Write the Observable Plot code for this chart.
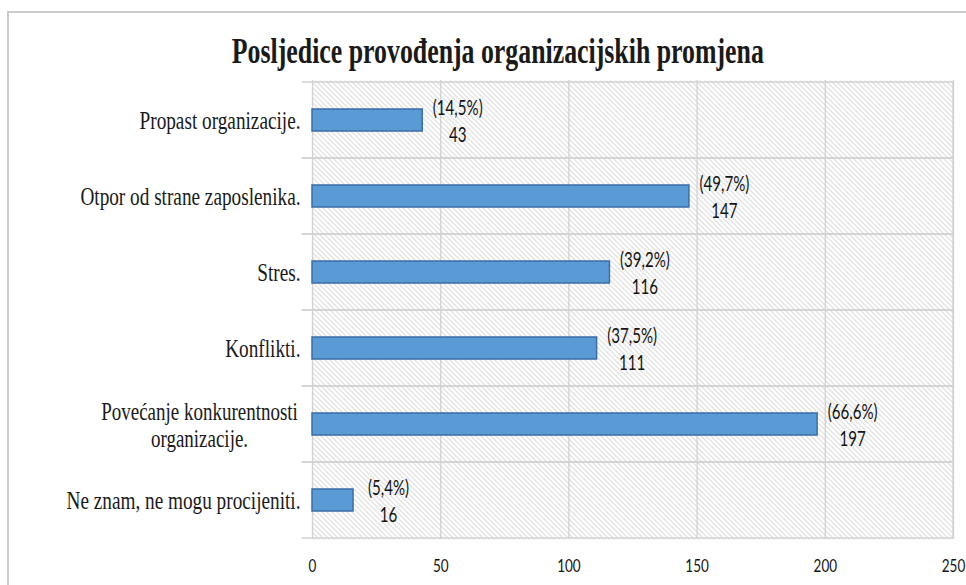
<!DOCTYPE html>
<html><head><meta charset="utf-8">
<script src="https://cdn.jsdelivr.net/npm/d3@7"></script>
<script src="https://cdn.jsdelivr.net/npm/@observablehq/plot@0.6"></script>
<style>
body{margin:0;background:#fff;}
#wrap{position:relative;width:966px;height:585px;overflow:hidden;background:#fff;}
#border{position:absolute;left:7px;top:11px;width:1000px;height:700px;border-top:2px solid #cbcbcb;border-left:2px solid #cbcbcb;}
#chart{position:absolute;left:0;top:0;}
#title{position:absolute;top:33px;left:0;width:996px;text-align:center;font-family:"Liberation Serif","Times New Roman",serif;font-weight:bold;font-size:36px;line-height:36px;color:#1a1a1a;white-space:nowrap;}
#title span{display:inline-block;transform-origin:center;}
</style></head>
<body>
<div id="wrap">
  <div id="border"></div>
  <div id="chart"></div>
  <div id="title"><span id="tt">Posljedice provođenja organizacijskih promjena</span></div>
</div>
<script>
const categories = ["Propast organizacije.", "Otpor od strane zaposlenika.", "Stres.", "Konflikti.", "Povećanje konkurentnosti\norganizacije.", "Ne znam, ne mogu procijeniti."];
const counts = [43, 147, 116, 111, 197, 16];
const percents = ["(14,5%)", "(49,7%)", "(39,2%)", "(37,5%)", "(66,6%)", "(5,4%)"];
const xTicks = [0, 50, 100, 150, 200, 250];

const data = categories.map((c, i) => ({category: c, count: counts[i], pct: percents[i]}));
const sans = "Lato,'Open Sans',sans-serif";
const serif = "'Liberation Serif','Times New Roman',serif";

const chart = Plot.plot({
  width: 966, height: 585,
  marginTop: 80, marginBottom: 46, marginLeft: 312, marginRight: 13,
  x: {domain: [0, 250], label: null},
  y: {domain: categories, padding: 0, axis: null, label: null},
  style: {background: "transparent", overflow: "visible"},
  marks: [
    Plot.frame({fill: "url(#hatch)", stroke: null}),
    Plot.ruleX(xTicks, {stroke: "#d2d2d2", strokeWidth: 1.3}),
    Plot.barX(data, {x1: 0, x2: 250, y: "category", insetLeft: -10, fill: "none", stroke: "#d2d2d2", strokeWidth: 1.3, strokeDasharray: "727.5 0 651 76.5"}),
    Plot.barX(data, {x: "count", y: "category", insetTop: 27, insetBottom: 27, fill: "#5b9bd5", stroke: "#3a6ea5", strokeWidth: 1.5}),
    Plot.text(data, {x: "count", y: "category", text: d => d.pct + "\n" + d.count, textAnchor: "middle", dx: 35, dy: -1, lineHeight: 1.28, fontSize: 21, fontFamily: sans, fill: "#141414"}),
    Plot.axisX({ticks: xTicks, tickSize: 0, tickPadding: 20, fontSize: 18, fontFamily: sans, color: "#141414", label: null, tickFormat: d => String(d)}),
    Plot.text(data.filter(d => !d.category.includes("\n")), {frameAnchor: "left", y: "category", text: "category", textAnchor: "end", dx: -12, fontSize: 25, fontFamily: serif, fill: "#1a1a1a"}),
    Plot.text(data.filter(d => d.category.includes("\n")), {frameAnchor: "left", y: "category", text: "category", textAnchor: "middle", dx: -113, lineHeight: 1.08, fontSize: 25, fontFamily: serif, fill: "#1a1a1a"})
  ]
});
chart.insertAdjacentHTML("afterbegin", '<defs><pattern id="hatch" patternUnits="userSpaceOnUse" width="5" height="5"><rect width="5" height="5" fill="#fff"/><path d="M0,0L5,5M-1,4L1,6M4,-1L6,1" stroke="#c6c6c6" stroke-width="1"/></pattern></defs>');

// horizontal condensing of text glyphs (the reference is rendered tall and narrow)
function squeeze(group, k) {
  if (!group) return;
  group.querySelectorAll("text").forEach(t => {
    const tr = t.getAttribute("transform");
    if (tr) t.setAttribute("transform", tr + " scale(" + k + ",1)");
    else {
      const x = +t.getAttribute("x") || 0, y = +t.getAttribute("y") || 0;
      t.setAttribute("transform", "translate(" + x + "," + y + ") scale(" + k + ",1) translate(" + (-x) + "," + (-y) + ")");
    }
  });
}
const textGroups = chart.querySelectorAll('g[aria-label="text"]');
squeeze(textGroups[0], 0.72);
squeeze(textGroups[1], 0.77);
squeeze(textGroups[2], 0.76);
chart.querySelectorAll('g[aria-label="x-axis tick label"]').forEach(g => squeeze(g, 0.75));
document.getElementById("chart").appendChild(chart);

const tt = document.getElementById("tt");
const w = tt.getBoundingClientRect().width;
tt.style.transform = "scaleX(" + (532 / w) + ")";
</script>
</body></html>
